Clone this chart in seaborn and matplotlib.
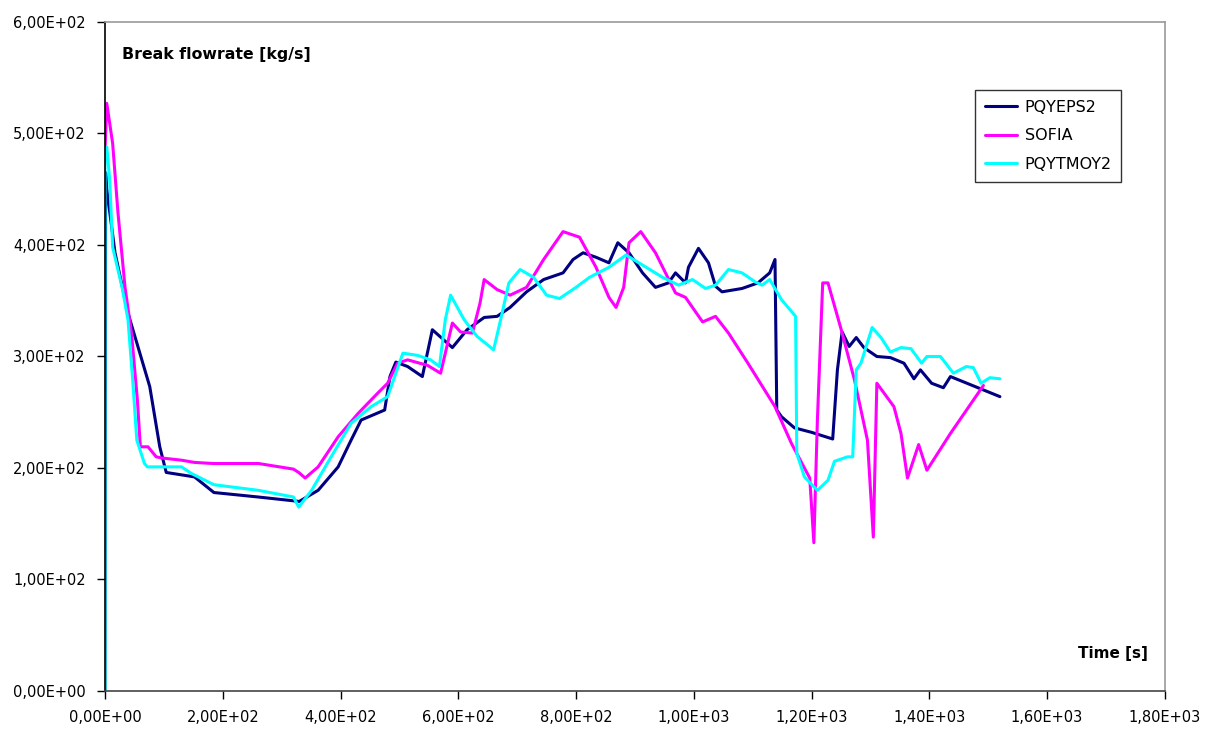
import numpy as np
import pandas as pd
import matplotlib
matplotlib.use('Agg')
import matplotlib.pyplot as plt
from matplotlib.ticker import FuncFormatter, MultipleLocator
import seaborn as sns

# values
eps_t = [0, 1, 3, 17, 39, 76, 93, 104, 152, 185, 260, 330, 362, 396, 418, 435, 475, 484, 494, 514,
         539, 556, 590, 615, 644, 666, 688, 716, 745, 778, 795, 812, 834, 856, 871, 890, 913, 935,
         957, 969, 986, 991, 1008, 1025, 1037, 1048, 1082, 1109, 1129, 1138, 1141, 1149, 1171, 1200,
         1236, 1244, 1252, 1264, 1276, 1289, 1311, 1334, 1357, 1374, 1385, 1404, 1424, 1436, 1520]
eps_q = [0, 465, 450, 393, 339, 273, 219, 196, 192, 178, 174, 170, 180, 201, 225, 243, 252, 282, 295, 291,
         282, 324, 308, 324, 335, 336, 344, 358, 369, 375, 387, 393, 389, 384, 402, 393, 375, 362,
         366, 375, 366, 380, 397, 384, 363, 358, 361, 366, 375, 387, 252, 246, 236, 232,
         226, 288, 322, 309, 317, 308, 300, 299, 294, 280, 288, 276, 272, 282, 264]

sofia_t = [0, 3, 13, 22, 34, 45, 55, 60, 73, 87, 96, 130, 152, 185, 261, 320, 329, 340, 362, 396, 430,
           463, 480, 497, 514, 548, 570, 590, 604, 624, 637, 644, 666, 688, 716, 745, 778, 806, 834,
           856, 868, 881, 890, 910, 935, 969, 986, 1015, 1037, 1059, 1092, 1138, 1166, 1197, 1204,
           1210, 1219, 1228, 1250, 1273, 1295, 1305, 1311, 1340, 1352, 1363, 1382, 1396, 1436, 1492]
sofia_q = [485, 527, 491, 429, 362, 321, 261, 219, 219, 210, 209, 207, 205, 204, 204, 199, 196, 191, 201, 228, 249,
           267, 276, 294, 297, 292, 285, 330, 322, 321, 348, 369, 360, 355, 362, 387, 412, 407, 380,
           353, 344, 362, 402, 412, 393, 357, 353, 331, 336, 321, 294, 255, 222, 191, 133,
           243, 366, 366, 325, 279, 225, 138, 276, 255, 231, 191, 221, 198, 231, 274]

tmoy_t = [0, 0, 3, 8, 13, 29, 39, 47, 54, 67, 72, 130, 147, 185, 260, 320, 329, 351, 384, 418, 452, 480,
          492, 506, 531, 553, 568, 578, 587, 610, 632, 660, 672, 686, 705, 728, 750, 772, 800, 823,
          856, 885, 913, 947, 974, 998, 1020, 1037, 1059, 1082, 1104, 1116, 1129, 1149, 1173, 1175,
          1188, 1210, 1228, 1239, 1261, 1270, 1276, 1284, 1303, 1318, 1334, 1352, 1369, 1387, 1396,
          1419, 1441, 1463, 1475, 1488, 1503, 1520]
tmoy_q = [0, 485, 488, 458, 398, 362, 333, 279, 225, 204, 201, 201, 195, 185, 180, 174, 165, 180, 210, 240, 255, 264,
          282, 303, 301, 297, 291, 333, 355, 333, 318, 306, 333, 366, 378, 371, 355, 352, 362, 371,
          380, 391, 382, 371, 364, 369, 361, 364, 378, 375, 367, 364, 369, 351, 336, 213,
          192, 180, 189, 206, 210, 210, 288, 294, 326, 317, 304, 308, 307, 294, 300,
          300, 285, 291, 290, 276, 281, 280]

series = ['PQYEPS2', 'SOFIA', 'PQYTMOY2']
colors = ['#000080', '#FF00FF', '#00FFFF']

df = pd.concat([
    pd.DataFrame({'t': eps_t, 'q': eps_q, 'run': 'PQYEPS2'}),
    pd.DataFrame({'t': sofia_t, 'q': sofia_q, 'run': 'SOFIA'}),
    pd.DataFrame({'t': tmoy_t, 'q': tmoy_q, 'run': 'PQYTMOY2'}),
], ignore_index=True)

sns.set_style('white')
plt.rcParams['font.family'] = ['DejaVu Sans']
plt.rcParams['text.color'] = 'black'

fig = plt.figure(figsize=(12.07, 7.33), dpi=100)
ax = fig.add_axes([0.087, 0.0573, 0.878, 0.9127])

sns.lineplot(data=df, x='t', y='q', hue='run', hue_order=series, palette=colors,
             sort=False, estimator=None, linewidth=2.2, ax=ax)

ax.set_xlim(0, 1800)
ax.set_ylim(0, 600)
ax.xaxis.set_major_locator(MultipleLocator(200))
ax.yaxis.set_major_locator(MultipleLocator(100))
fmt = FuncFormatter(lambda v, p: f'{v:.2E}'.replace('.', ','))
ax.xaxis.set_major_formatter(fmt)
ax.yaxis.set_major_formatter(fmt)
ax.tick_params(bottom=True, left=True, direction='out', length=6, width=1,
               labelsize=10.5, colors='black', pad=8)
ax.set_xlabel('')
ax.set_ylabel('')

ax.spines['left'].set_color('black')
ax.spines['bottom'].set_color('#444444')
ax.spines['top'].set_color('#999999')
ax.spines['right'].set_color('#999999')
for s in ax.spines.values():
    s.set_linewidth(1.2)

ax.text(0.016, 0.963, 'Break flowrate [kg/s]', transform=ax.transAxes,
        fontsize=11.3, fontweight='bold', va='top', ha='left')
ax.text(0.984, 0.067, 'Time [s]', transform=ax.transAxes,
        fontsize=11, fontweight='bold', va='top', ha='right')

leg = ax.legend(loc='upper left', bbox_to_anchor=(0.821, 0.898), frameon=True,
                fancybox=False, fontsize=11.5, handlelength=2.0, borderpad=0.6,
                labelspacing=0.85, handletextpad=0.5, borderaxespad=0)
leg.get_frame().set_edgecolor('black')
leg.get_frame().set_linewidth(1.0)
for t in leg.get_texts():
    t.set_color('black')

fig.savefig('out.png', dpi=100)
